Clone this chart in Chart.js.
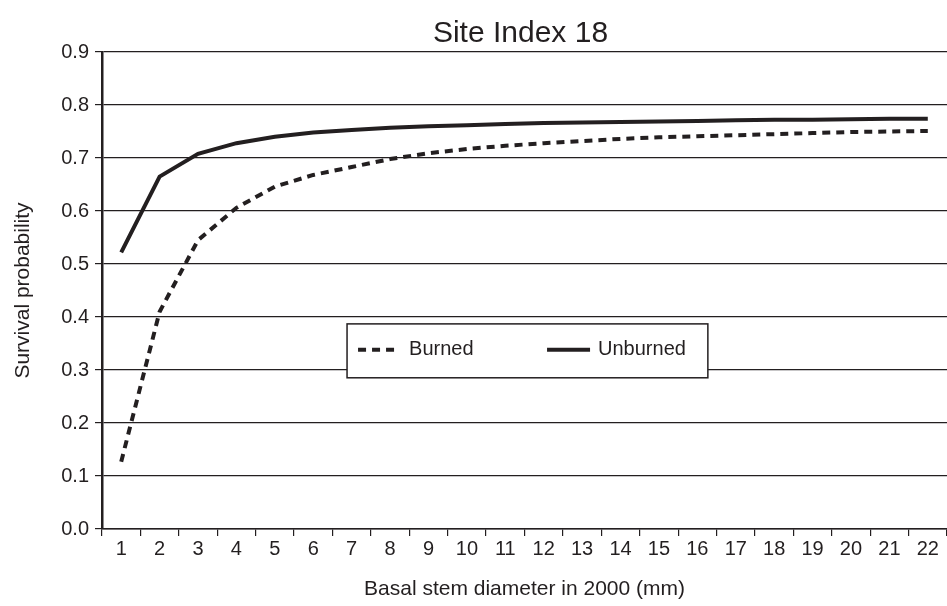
<!DOCTYPE html>
<html>
<head>
<meta charset="utf-8">
<script src="https://cdn.jsdelivr.net/npm/chart.js@4.4.1/dist/chart.umd.min.js"></script>
<style>
  html, body { margin: 0; padding: 0; background: #fff; }
  #wrap { width: 947px; height: 606px; }
</style>
</head>
<body>
<div id="wrap"><canvas id="siChart"></canvas></div>
<script>
const chartTitle = 'Site Index 18';
const diameters = ['1','2','3','4','5','6','7','8','9','10','11','12','13','14','15','16','17','18','19','20','21','22'];
const burned = [0.127, 0.41, 0.545, 0.606, 0.646, 0.668, 0.683, 0.698, 0.709, 0.717, 0.723, 0.728, 0.732, 0.736, 0.739, 0.741, 0.743, 0.745, 0.747, 0.749, 0.750, 0.751];
const unburned = [0.522, 0.665, 0.708, 0.728, 0.740, 0.748, 0.753, 0.757, 0.760, 0.762, 0.764, 0.766, 0.767, 0.768, 0.769, 0.770, 0.771, 0.772, 0.772, 0.773, 0.774, 0.774];
const yTicks = [0, 0.1, 0.2, 0.3, 0.4, 0.5, 0.6, 0.7, 0.8, 0.9];

const ink = '#231f20';
const fontFamily = 'Arial, "Liberation Sans", Helvetica, sans-serif';

// title centred over the plot area, not the whole canvas
const plotTitle = {
    id: 'plotTitle',
    afterDraw(chart) {
        const { ctx, chartArea: a } = chart;
        ctx.save();
        ctx.fillStyle = ink;
        ctx.font = '30px ' + fontFamily;
        ctx.textAlign = 'center';
        ctx.textBaseline = 'alphabetic';
        ctx.fillText(chartTitle, (a.left + a.right) / 2 - 4, a.top - 10);
        ctx.restore();
    }
};

// legend drawn as a box inside the plot, like the original figure
const boxLegend = {
    id: 'boxLegend',
    afterDraw(chart) {
        const { ctx, chartArea: a } = chart;
        const w = a.right - a.left, h = a.bottom - a.top;
        const x0 = a.left + w * 0.290, x1 = a.left + w * 0.717;
        const y0 = a.top + h * 0.570, y1 = a.top + h * 0.683;
        const cy = (y0 + y1) / 2 - 1;
        ctx.save();
        ctx.fillStyle = '#fff';
        ctx.fillRect(x0, y0, x1 - x0, y1 - y0);
        ctx.strokeStyle = ink;
        ctx.lineWidth = 1.5;
        ctx.strokeRect(x0, y0, x1 - x0, y1 - y0);
        chart.data.datasets.forEach((ds, i) => {
            const sx = i === 0 ? x0 + 11 : x0 + 200;
            const len = i === 0 ? 36 : 43;
            const gap = i === 0 ? 15 : 8;
            ctx.beginPath();
            ctx.setLineDash(ds.borderDash || []);
            ctx.lineWidth = ds.borderWidth;
            ctx.strokeStyle = ds.borderColor;
            ctx.moveTo(sx, cy);
            ctx.lineTo(sx + len, cy);
            ctx.stroke();
            ctx.setLineDash([]);
            ctx.fillStyle = ink;
            ctx.font = '20px ' + fontFamily;
            ctx.textBaseline = 'middle';
            ctx.fillText(ds.label, sx + len + gap, cy);
        });
        ctx.restore();
    }
};

const ctx = document.getElementById('siChart').getContext('2d');
new Chart(ctx, {
    type: 'line',
    data: {
        labels: diameters,
        datasets: [
            {
                label: 'Burned',
                data: burned,
                borderColor: ink,
                borderWidth: 4,
                borderDash: [8, 6],
                pointRadius: 0,
                tension: 0,
                fill: false
            },
            {
                label: 'Unburned',
                data: unburned,
                borderColor: ink,
                borderWidth: 4,
                pointRadius: 0,
                tension: 0,
                fill: false
            }
        ]
    },
    options: {
        responsive: true,
        maintainAspectRatio: false,
        animation: false,
        devicePixelRatio: 1,
        layout: { padding: { left: 0, right: 0, top: 52, bottom: 0 } },
        plugins: {
            legend: { display: false },
            tooltip: { enabled: false },
            title: { display: false }
        },
        scales: {
            x: {
                offset: true,
                grid: {
                    offset: true,
                    drawOnChartArea: false,
                    drawTicks: true,
                    tickLength: 7,
                    color: ink,
                    lineWidth: 1.2
                },
                border: { display: true, color: ink, width: 1.5 },
                ticks: {
                    color: ink,
                    font: { family: fontFamily, size: 20 },
                    padding: 1,
                    maxRotation: 0,
                    autoSkip: false
                },
                title: {
                    display: true,
                    text: 'Basal stem diameter in 2000 (mm)',
                    color: ink,
                    font: { family: fontFamily, size: 21 },
                    padding: { top: 8, bottom: 4 }
                },
                afterFit: (scale) => { scale.height = 77; }
            },
            y: {
                min: 0,
                max: 0.9,
                afterBuildTicks: (scale) => { scale.ticks = yTicks.map(v => ({ value: v })); },
                grid: {
                    color: ink,
                    lineWidth: 1.2,
                    drawTicks: true,
                    tickLength: 7
                },
                border: { display: true, color: ink, width: 2.5 },
                ticks: {
                    color: ink,
                    font: { family: fontFamily, size: 20 },
                    padding: 6,
                    callback: (v) => Number(v).toFixed(1)
                },
                title: {
                    display: true,
                    text: 'Survival probability',
                    color: ink,
                    font: { family: fontFamily, size: 21 },
                    padding: { top: 11, bottom: 4 }
                },
                afterFit: (scale) => { scale.width = 102; }
            }
        }
    },
    plugins: [plotTitle, boxLegend]
});
</script>
</body>
</html>
